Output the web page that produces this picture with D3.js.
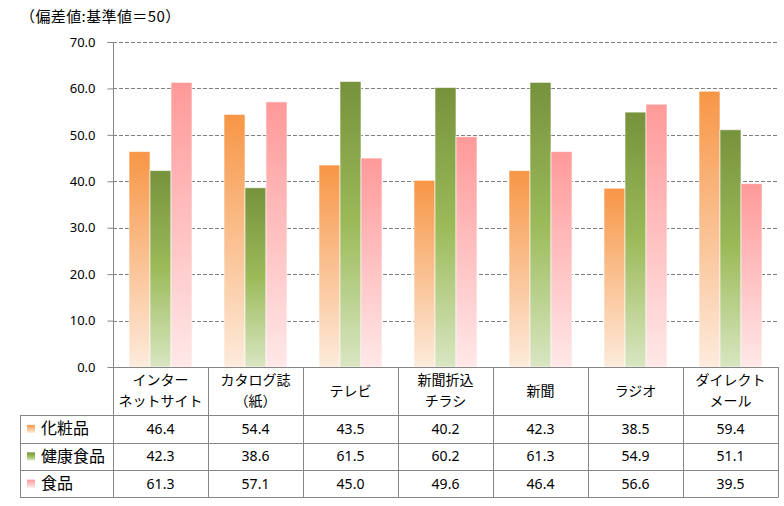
<!DOCTYPE html>
<html><head><meta charset="utf-8">
<script src="https://cdn.jsdelivr.net/npm/d3@7"></script>
<style>
html,body{margin:0;padding:0;background:#fff;}
text{font-family:"Noto Sans CJK JP","Noto Sans",sans-serif;fill:#000;}
</style></head>
<body><svg id="c" width="784" height="506"></svg>
<script>
const categories = [["インター","ネットサイト"],["カタログ誌","（紙）"],["テレビ"],["新聞折込","チラシ"],["新聞"],["ラジオ"],["ダイレクト","メール"]];
const seriesNames = ["化粧品","健康食品","食品"];
const cosmetics = [46.4,54.4,43.5,40.2,42.3,38.5,59.4];
const health = [42.3,38.6,61.5,60.2,61.3,54.9,51.1];
const food = [61.3,57.1,45.0,49.6,46.4,56.6,39.5];
const yTicks = [0,10,20,30,40,50,60,70];
const title = "（偏差値:基準値＝50）";

(function(){
const series = [cosmetics, health, food];
const grads = [
  [["0%","#F79646"],["100%","#FDEBDC"]],
  [["0%","#76923C"],["50%","#9BBB59"],["100%","#D9E6C2"]],
  [["0%","#FF9999"],["100%","#FFE8E8"]]
];

const svg = d3.select("#c");
const defs = svg.append("defs");
grads.forEach((g,i)=>{
  const lg = defs.append("linearGradient").attr("id","g"+i).attr("x1",0).attr("y1",0).attr("x2",0).attr("y2",1);
  g.forEach(s=>lg.append("stop").attr("offset",s[0]).attr("stop-color",s[1]));
});

const pL=113, pR=778, pT=42, pB=367;
const x = d3.scaleBand().domain(d3.range(categories.length)).range([pL,pR]).paddingInner(0).paddingOuter(0);
const y = d3.scaleLinear().domain([0,70]).range([pB,pT]);
const xs = d3.scaleBand().domain(d3.range(3)).range([0,63]);
const groupOff = (x.bandwidth()-63)/2;

svg.append("text").attr("x",20).attr("y",22).attr("font-size",15).attr("letter-spacing",0.4).text(title);

svg.append("g").selectAll("line").data(yTicks.filter(d=>d>0)).join("line")
  .attr("x1",pL).attr("x2",pR).attr("y1",d=>Math.round(y(d))+0.5).attr("y2",d=>Math.round(y(d))+0.5)
  .attr("stroke","#808080").attr("stroke-dasharray","4,2").attr("stroke-width",1);

const yAxis = d3.axisLeft(y).tickValues(yTicks).tickFormat(d3.format(".1f")).tickSize(6).tickPadding(12);
const ya = svg.append("g").attr("transform",`translate(${pL+0.5},0)`).call(yAxis);
ya.selectAll("path,line").attr("stroke","#868686");
ya.select(".domain").attr("d",`M-6,${pT}.5H0V${pB}`);
ya.selectAll("text").attr("font-size",13).attr("fill","#000").style("font-family","'Noto Sans','Open Sans',sans-serif");

series.forEach((vals,si)=>{
  svg.append("g").selectAll("rect").data(vals).join("rect")
    .attr("x",(d,i)=>x(i)+groupOff+xs(si))
    .attr("width",xs.bandwidth())
    .attr("y",d=>y(d))
    .attr("height",d=>pB-y(d))
    .attr("fill",`url(#g${si})`)
    .attr("stroke","rgba(255,255,255,0.6)").attr("stroke-width",1);
});

const rowY = [367,415,442.7,470,497.3];
const tableLeft = 20;
const tg = svg.append("g");
tg.append("line").attr("x1",pL).attr("x2",pR).attr("y1",pB+0.5).attr("y2",pB+0.5).attr("stroke","#868686");
rowY.slice(1).forEach(ry=>{
  tg.append("line").attr("x1",tableLeft).attr("x2",pR).attr("y1",Math.round(ry)+0.5).attr("y2",Math.round(ry)+0.5).attr("stroke","#868686");
});
d3.range(categories.length+1).forEach(i=>{
  const xx = (i<categories.length? x(i): pR);
  tg.append("line").attr("x1",Math.round(xx)+0.5).attr("x2",Math.round(xx)+0.5).attr("y1",pB).attr("y2",Math.round(rowY[4])+0.5).attr("stroke","#868686");
});
tg.append("line").attr("x1",tableLeft+0.5).attr("x2",tableLeft+0.5).attr("y1",Math.round(rowY[1])).attr("y2",Math.round(rowY[4])+0.5).attr("stroke","#868686");

categories.forEach((lines,i)=>{
  const cx = x(i)+x.bandwidth()/2;
  const mid = (rowY[0]+rowY[1])/2;
  lines.forEach((t,li)=>{
    const yy = lines.length===1 ? mid : mid + (li===0?-10.5:10.5);
    tg.append("text").attr("x",cx).attr("y",yy).attr("dy","0.35em").attr("text-anchor","middle").attr("font-size",14).text(t);
  });
});
series.forEach((vals,si)=>{
  const cy = (rowY[si+1]+rowY[si+2])/2;
  tg.append("rect").attr("x",27).attr("y",cy-4).attr("width",8).attr("height",8).attr("fill",`url(#g${si})`);
  tg.append("text").attr("x",41).attr("y",cy).attr("dy","0.35em").attr("font-size",16).text(seriesNames[si]);
  vals.forEach((v,i)=>{
    tg.append("text").attr("x",x(i)+x.bandwidth()/2).attr("y",cy).attr("dy","0.35em").attr("text-anchor","middle")
      .attr("font-size",14).style("font-family","'Noto Sans','Open Sans',sans-serif").text(d3.format(".1f")(v));
  });
});
})();
</script></body></html>
